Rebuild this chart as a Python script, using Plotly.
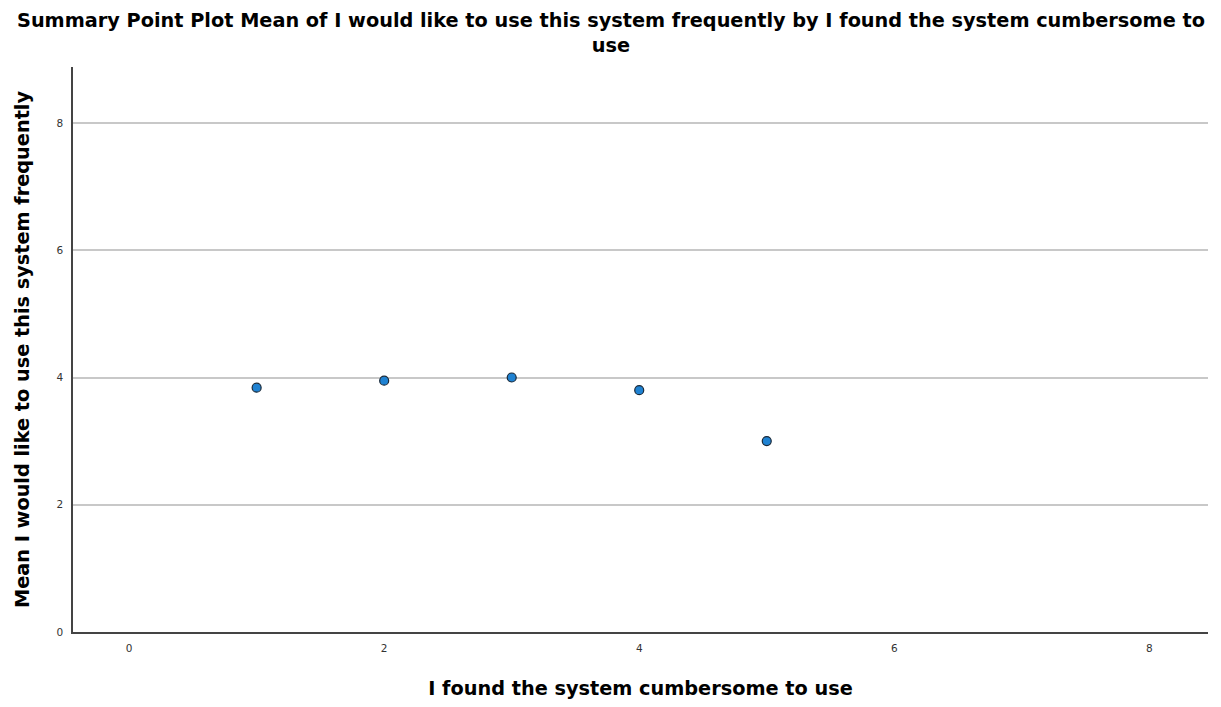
import plotly.graph_objects as go

# Mean rating of "I would like to use this system frequently" per cumbersomeness score
cumbersome_score = [1, 2, 3, 4, 5]
mean_frequent_use = [3.84, 3.95, 4.0, 3.80, 3.0]

tick_vals = [0, 2, 4, 6, 8]

chart_title = ("Summary Point Plot Mean of I would like to use this system frequently "
               "by I found the system cumbersome to<br>use")

fig = go.Figure()
fig.add_trace(go.Scatter(
    x=cumbersome_score,
    y=mean_frequent_use,
    mode="markers",
    marker=dict(size=9, color="#1f82d2", line=dict(color="#1a2a3a", width=1.2)),
    showlegend=False,
    hoverinfo="x+y",
))

font_family = "DejaVu Sans, Verdana, sans-serif"

fig.add_annotation(
    text="<b>" + chart_title + "</b>",
    xref="paper", yref="paper", x=0.474, y=1.06, xanchor="center", yanchor="middle",
    showarrow=False, align="center",
    font=dict(family=font_family, size=19.3, color="black"),
)

fig.update_layout(
    width=1221, height=707,
    paper_bgcolor="white", plot_bgcolor="white",
    margin=dict(l=73, r=13, t=67, b=75),
    xaxis=dict(
        range=[-0.44, 8.46], tickvals=tick_vals, showgrid=False, zeroline=False,
        showline=True, linecolor="#444444", linewidth=1.5, automargin=False,
        ticks="", ticklen=0, ticklabelstandoff=6,
        tickfont=dict(family=font_family, size=10.5, color="#333333"),
        title=dict(text="<b>I found the system cumbersome to use</b>",
                   font=dict(family=font_family, size=19.3, color="black"), standoff=28),
    ),
    yaxis=dict(
        range=[0, 8.88], tickvals=tick_vals, showgrid=True, gridcolor="#c8c8c8", gridwidth=1.5,
        zeroline=False, showline=True, linecolor="#444444", linewidth=1.5, automargin=False,
        ticks="", ticklen=0, ticklabelstandoff=6,
        tickfont=dict(family=font_family, size=10.5, color="#333333"),
        title=dict(text="<b>Mean I would like to use this system frequently</b>",
                   font=dict(family=font_family, size=19.3, color="black"), standoff=22),
    ),
)

fig.write_html("out.html")
